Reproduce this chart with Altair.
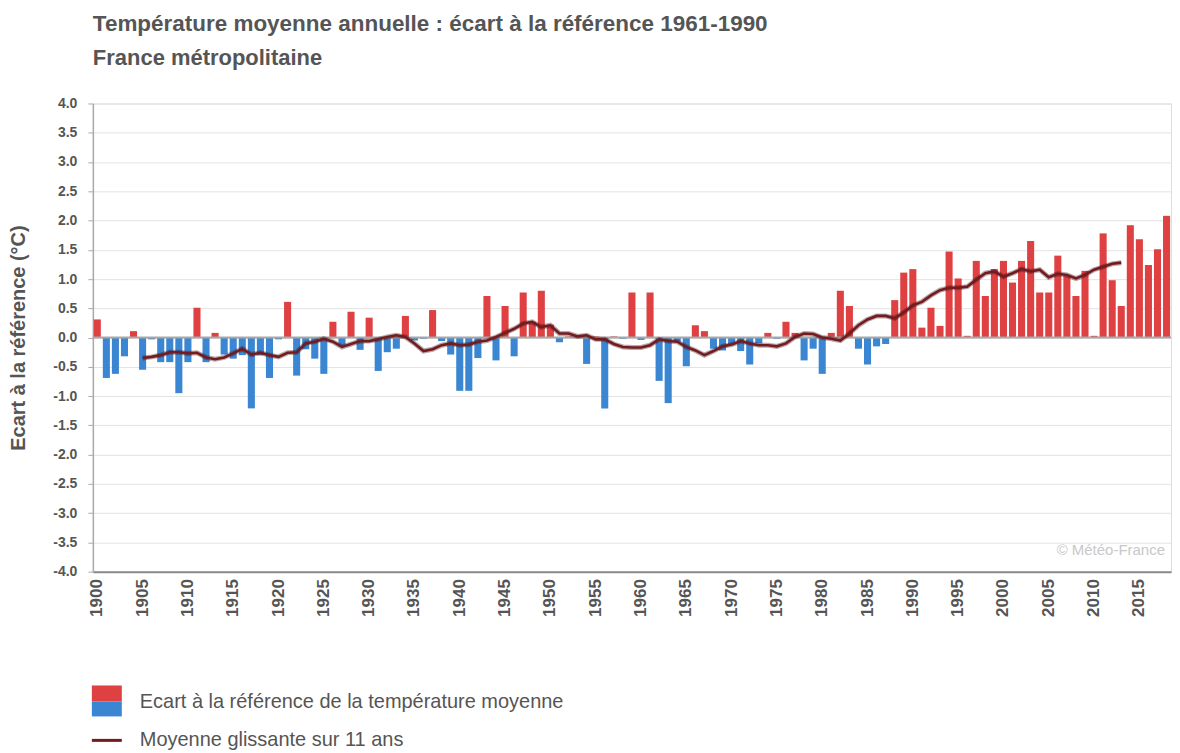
import altair as alt
import pandas as pd

years = list(range(1900, 2019))
anomaly = [
    0.31, -0.69, -0.62, -0.32, 0.11, -0.55, -0.03, -0.42, -0.42, -0.95,
    -0.42, 0.51, -0.42, 0.08, -0.29, -0.36, -0.30, -1.21, -0.30, -0.69,
    -0.03, 0.61, -0.65, -0.20, -0.36, -0.62, 0.27, -0.15, 0.44, -0.21,
    0.34, -0.57, -0.25, -0.19, 0.37, -0.05, -0.02, 0.47, -0.06, -0.29,
    -0.91, -0.91, -0.35, 0.71, -0.39, 0.54, -0.32, 0.77, 0.27, 0.80,
    0.22, -0.08, 0.02, 0.03, -0.45, 0.02, -1.21, 0.02, -0.02, 0.77,
    -0.04, 0.77, -0.74, -1.12, -0.07, -0.49, 0.21, 0.11, -0.19, -0.22,
    -0.13, -0.23, -0.46, -0.10, 0.08, -0.02, 0.27, 0.08, -0.39, -0.19,
    -0.62, 0.08, 0.80, 0.54, -0.19, -0.46, -0.15, -0.11, 0.64, 1.11,
    1.17, 0.17, 0.51, 0.20, 1.47, 1.01, 0.03, 1.31, 0.71, 1.17,
    1.31, 0.94, 1.31, 1.65, 0.77, 0.77, 1.40, 1.05, 0.71, 1.14,
    0.03, 1.78, 0.98, 0.54, 1.92, 1.68, 1.24, 1.51, 2.08,
]

ma_years = list(range(1905, 2014))
ma_values = [
    -0.35, -0.33, -0.30, -0.25, -0.25, -0.27, -0.26, -0.34, -0.37, -0.34,
    -0.27, -0.19, -0.29, -0.26, -0.30, -0.33, -0.26, -0.25, -0.10, -0.07,
    -0.02, -0.07, -0.16, -0.11, -0.06,
    -0.06, -0.03, 0.01, 0.04, 0.01, -0.10, -0.23, -0.20, -0.13, -0.10,
    -0.13, -0.12, -0.07, -0.05, 0.01, 0.08, 0.15, 0.24, 0.27, 0.18,
    0.21, 0.07, 0.07, 0.02, 0.04, -0.03, -0.03, -0.11, -0.16, -0.17,
    -0.17, -0.13, -0.03, -0.06, -0.07, -0.16, -0.22, -0.30, -0.23, -0.15,
    -0.12, -0.06, -0.10, -0.13, -0.13, -0.15, -0.10, 0.01, 0.07, 0.06,
    0.00, -0.02, -0.05, 0.07, 0.21, 0.31, 0.37, 0.37, 0.33, 0.43,
    0.55, 0.61, 0.72, 0.81, 0.85, 0.85, 0.87, 0.99, 1.10, 1.13,
    1.04, 1.10, 1.17, 1.13, 1.16, 1.03, 1.09, 1.07, 1.01, 1.07,
    1.16, 1.21, 1.26, 1.28,
]

tick_years = list(range(1900, 2016, 5))
y_ticks = [-4.0, -3.5, -3.0, -2.5, -2.0, -1.5, -1.0, -0.5, 0.0,
           0.5, 1.0, 1.5, 2.0, 2.5, 3.0, 3.5, 4.0]

TITLE = "Température moyenne annuelle : écart à la référence 1961-1990"
SUBTITLE = "France métropolitaine"
Y_TITLE = "Ecart à la référence (°C)"
LEG_BAR = "Ecart à la référence de la température moyenne"
LEG_LINE = "Moyenne glissante sur 11 ans"
WATERMARK = "© Météo-France"

RED = "#DF4143"
BLUE = "#3A86D2"
MA_COLOR = "#741B20"
TXT = "#555555"
SANS = "Liberation Sans, Arial, sans-serif"

W, H = 1080, 469

bars_df = pd.DataFrame({"year": years, "v": anomaly})
ma_df = pd.DataFrame({"year": ma_years, "v": ma_values})

xscale = alt.Scale(domain=years, paddingInner=0.22, paddingOuter=0.1)
yscale = alt.Scale(domain=[-4, 4], nice=False, zero=False)

x_axis = alt.Axis(
    values=tick_years, labelAngle=270, labelFont=SANS, labelFontSize=17,
    labelFontWeight="bold", labelColor=TXT, ticks=False, labelPadding=7,
    domainColor="#8a8a8a", domainWidth=2, grid=False, title=None,
)
y_axis = alt.Axis(
    values=y_ticks,
    labelExpr="replace(format(datum.value, '.1f'), '\u2212', '-')",
    labelOverlap=False,
    labelFont=SANS, labelFontSize=14, labelFontWeight="bold", labelColor=TXT,
    tickSize=5, tickColor="#aaaaaa", domainColor="#aaaaaa", domainWidth=1.5,
    gridColor="#e3e3e3", gridWidth=1, labelPadding=11,
    title=Y_TITLE, titleFont=SANS, titleFontSize=20, titleFontWeight="bold",
    titleColor=TXT, titlePadding=24,
)

X = alt.X("year:O", scale=xscale, axis=x_axis)
Y = alt.Y("v:Q", scale=yscale, axis=y_axis)

bars = alt.Chart(bars_df).mark_bar().encode(
    x=X, y=Y,
    color=alt.condition(alt.datum.v > 0, alt.value(RED), alt.value(BLUE)),
)

zero = alt.Chart(pd.DataFrame({"v": [0.0]})).mark_rule(
    color="#a8a8a8", strokeWidth=2
).encode(y=Y)

glow = alt.Chart(ma_df).mark_line(
    color="#3a0a0c", strokeWidth=5, opacity=0.35
).encode(x=X, y=Y)
line = alt.Chart(ma_df).mark_line(
    color=MA_COLOR, strokeWidth=2.6
).encode(x=X, y=Y)

one = alt.Data(values=[{"k": 1}])
wm = alt.Chart(one).mark_text(
    text=WATERMARK, align="right", baseline="middle", font=SANS, fontSize=15,
    color="#c8c8c8",
).encode(x=alt.value(W - 6), y=alt.value(H - 22))

leg_red = alt.Chart(one).mark_rect(color=RED).encode(
    x=alt.value(-1), x2=alt.value(29), y=alt.value(583), y2=alt.value(599))
leg_blue = alt.Chart(one).mark_rect(color=BLUE).encode(
    x=alt.value(-1), x2=alt.value(29), y=alt.value(599), y2=alt.value(614))
leg_t1 = alt.Chart(one).mark_text(
    text=LEG_BAR, align="left", baseline="middle", font=SANS, fontSize=20,
    color=TXT).encode(x=alt.value(47), y=alt.value(600))
leg_line = alt.Chart(one).mark_rule(color=MA_COLOR, strokeWidth=3).encode(
    x=alt.value(-1), x2=alt.value(29), y=alt.value(638))
leg_t2 = alt.Chart(one).mark_text(
    text=LEG_LINE, align="left", baseline="middle", font=SANS, fontSize=20,
    color=TXT).encode(x=alt.value(47), y=alt.value(638))

chart = alt.layer(
    bars, zero, glow, line, wm, leg_red, leg_blue, leg_t1, leg_line, leg_t2
).properties(
    width=W, height=H,
    padding={"left": 0, "right": 0, "top": 4, "bottom": 0},
    title=alt.TitleParams(
        text=TITLE, subtitle=SUBTITLE, anchor="start", frame="group",
        font=SANS, fontSize=22.5, fontWeight="bold", color=TXT,
        subtitleFont=SANS, subtitleFontSize=22, subtitleFontWeight="bold",
        subtitleColor=TXT, subtitlePadding=12, offset=28,
    ),
).configure_view(stroke=None).configure(background="white")

chart.save("out.html", embed_options={"renderer": "svg", "actions": False})
